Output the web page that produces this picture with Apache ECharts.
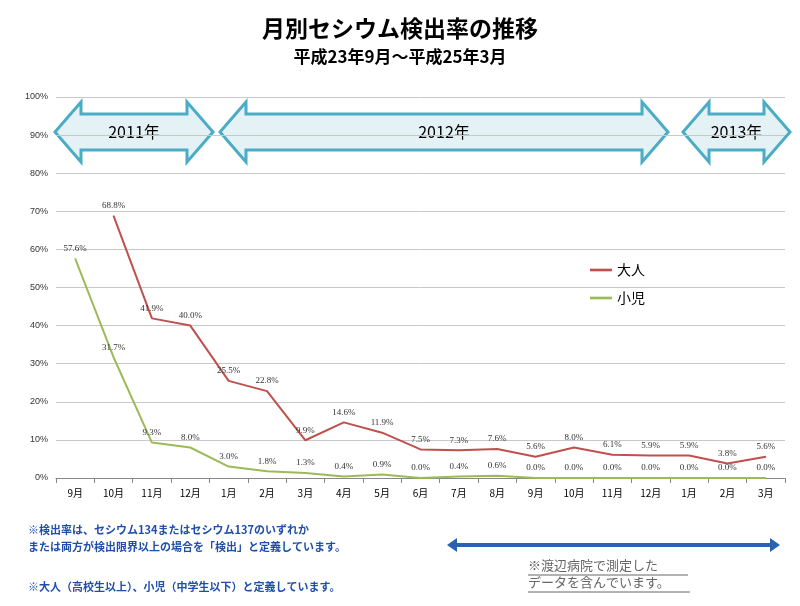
<!DOCTYPE html>
<html><head><meta charset="utf-8">
<script src="https://cdn.jsdelivr.net/npm/echarts@6/dist/echarts.min.js"></script>
<style>body{margin:0;background:#fff}#c{width:800px;height:606px}</style>
</head><body><div id="c"></div>
<script>
var months = ['9月','10月','11月','12月','1月','2月','3月','4月','5月','6月','7月','8月','9月','10月','11月','12月','1月','2月','3月'];
var adult = [null,68.8,41.9,40.0,25.5,22.8,9.9,14.6,11.9,7.5,7.3,7.6,5.6,8.0,6.1,5.9,5.9,3.8,5.6];
var child = [57.6,31.7,9.3,8.0,3.0,1.8,1.3,0.4,0.9,0.0,0.4,0.6,0.0,0.0,0.0,0.0,0.0,0.0,0.0];
var years = [['2011年',55,213],['2012年',220,668],['2013年',683,790]];

function arrow(x1, x2, y1, y2, head) {
    var m = (y1 + y2) / 2, a = y1 + 12, b = y2 - 12;
    return [[x1,m],[x1+head,y1],[x1+head,a],[x2-head,a],[x2-head,y1],[x2,m],[x2-head,y2],[x2-head,b],[x1+head,b],[x1+head,y2]];
}

var graphics = [];
years.forEach(function (y) {
    graphics.push({type:'polygon', shape:{points:arrow(y[1], y[2], 102, 162, 26)},
        style:{fill:'#e4f2f6', stroke:'#4bacc6', lineWidth:3}});
    graphics.push({type:'text', x:(y[1]+y[2])/2, y:132, style:{text:y[0], fill:'#000', font:'16px "Noto Sans CJK JP"', align:'center', verticalAlign:'middle'}});
});
graphics.push({type:'polygon', shape:{points:[[447,545],[457,538],[457,543],[770,543],[770,538],[780,545],[770,552],[770,547],[457,547],[457,552]]},
    style:{fill:'#2a62b0'}});
graphics.push({type:'text', left:28, top:521, style:{text:'※検出率は、セシウム134またはセシウム137のいずれか\nまたは両方が検出限界以上の場合を「検出」と定義しています。', fill:'#1f4fa8', font:'bold 11px "Noto Sans CJK JP"', lineHeight:17}});
graphics.push({type:'text', left:28, top:581, style:{text:'※大人（高校生以上）、小児（中学生以下）と定義しています。', fill:'#1f4fa8', font:'bold 11px "Noto Sans CJK JP"'}});
graphics.push({type:'text', left:528, top:557, style:{text:'※渡辺病院で測定した\nデータを含んでいます。', fill:'#666', font:'13px "Noto Sans CJK JP"', lineHeight:17}});
graphics.push({type:'line', shape:{x1:528,y1:592,x2:690,y2:592}, style:{stroke:'#666', lineWidth:1}});
graphics.push({type:'line', shape:{x1:528,y1:575,x2:688,y2:575}, style:{stroke:'#666', lineWidth:1}});

var lbl = {show:true, position:'top', fontSize:9, color:'#333', fontFamily:'Liberation Serif',
    formatter:function(p){ var v = Array.isArray(p.value) ? p.value[1] : p.value; return v == null ? '' : Number(v).toFixed(1) + '%'; }};

echarts.init(document.getElementById('c')).setOption({
    animation:false,
    title:{text:'月別セシウム検出率の推移', subtext:'平成23年9月～平成25年3月', left:'center', top:12, itemGap:8,
        textStyle:{fontSize:23, fontWeight:'bold', color:'#000', fontFamily:'Noto Sans CJK JP'},
        subtextStyle:{fontSize:17, fontWeight:'bold', color:'#000', fontFamily:'Noto Sans CJK JP'}},
    legend:{orient:'vertical', left:585, top:258, itemGap:14, itemWidth:22, icon:'path://M0,0H1V0.12H0Z',
        textStyle:{fontSize:14, fontFamily:'Noto Sans CJK JP', color:'#000'}, data:['大人','小児']},
    grid:{left:56, right:15, top:97, bottom:128},
    xAxis:{type:'category', data:months, boundaryGap:true,
        axisLine:{lineStyle:{color:'#888'}}, axisTick:{show:true, lineStyle:{color:'#888'}},
        axisLabel:{fontSize:10, color:'#000', fontFamily:'Noto Sans CJK JP', margin:10}},
    yAxis:{type:'value', min:0, max:100, interval:10,
        axisLabel:{fontSize:9, color:'#333', formatter:'{value}%', fontFamily:'Liberation Sans'},
        axisLine:{show:false}, splitLine:{lineStyle:{color:'#c8c8c8'}}},
    series:[
        {name:'大人', type:'line', data:adult, symbol:'circle', symbolSize:1, showSymbol:true, lineStyle:{color:'#c0504d', width:2}, itemStyle:{color:'#c0504d'}, label:lbl},
        {name:'小児', type:'line', data:child, symbol:'circle', symbolSize:1, showSymbol:true, lineStyle:{color:'#9bbb59', width:2}, itemStyle:{color:'#9bbb59'}, label:lbl}
    ],
    graphic:graphics
});
</script></body></html>
